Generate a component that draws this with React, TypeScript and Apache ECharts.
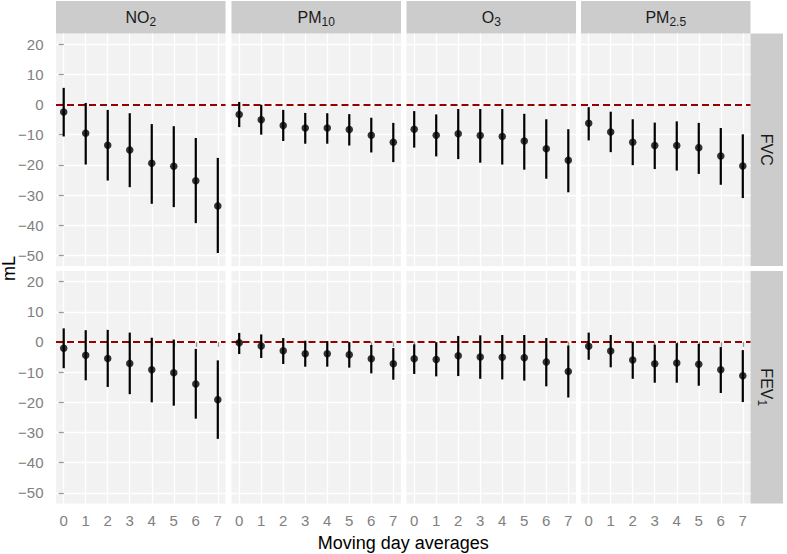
import React, { useEffect, useRef } from "react";
import * as echarts from "echarts";

// ---- data ----
const LAGS = [0, 1, 2, 3, 4, 5, 6, 7];
const Y_TICKS = [20, 10, 0, -10, -20, -30, -40, -50];
const POLLUTANT_BASE = ["NO", "PM", "O", "PM"];
const POLLUTANT_SUB = ["2", "10", "3", "2.5"];
const OUTCOME_BASE = ["FVC", "FEV"];
const OUTCOME_SUB = ["", "1"];

// FVC
const NO2_FVC_EST = [-2.5, -9.5, -13.5, -15.1, -19.5, -20.5, -25.3, -33.6];
const NO2_FVC_LO = [-10.6, -19.9, -25.2, -27.4, -32.9, -34.0, -39.3, -49.2];
const NO2_FVC_HI = [5.5, 0.5, -1.8, -2.9, -6.5, -7.2, -11.1, -17.7];

const PM10_FVC_EST = [-3.3, -5.1, -7.0, -7.8, -7.8, -8.3, -10.2, -12.5];
const PM10_FVC_LO = [-7.5, -10.0, -12.1, -13.0, -13.0, -13.6, -15.9, -19.1];
const PM10_FVC_HI = [0.8, -0.1, -1.8, -2.8, -2.9, -3.2, -4.4, -6.1];

const O3_FVC_EST = [-8.2, -10.2, -9.7, -10.3, -10.6, -12.1, -14.7, -18.5];
const O3_FVC_LO = [-14.3, -17.2, -18.1, -19.3, -19.9, -21.6, -24.6, -29.1];
const O3_FVC_HI = [-2.2, -3.3, -1.5, -1.5, -1.5, -3.1, -4.9, -8.2];

const PM25_FVC_EST = [-6.2, -9.1, -12.5, -13.6, -13.6, -14.3, -17.1, -20.4];
const PM25_FVC_LO = [-11.9, -15.8, -20.1, -21.4, -21.9, -23.0, -26.6, -31.0];
const PM25_FVC_HI = [-0.9, -2.4, -4.9, -6.0, -5.6, -6.1, -7.8, -9.9];

// FEV1
const NO2_FEV_EST = [-2.1, -4.4, -5.5, -7.1, -9.2, -10.2, -13.9, -19.1];
const NO2_FEV_LO = [-8.7, -12.7, -14.9, -17.3, -20.0, -21.1, -25.4, -32.1];
const NO2_FEV_HI = [4.5, 3.9, 4.0, 3.1, 1.4, 0.8, -2.3, -6.1];

const PM10_FEV_EST = [-0.3, -1.3, -2.9, -3.9, -3.9, -4.2, -5.6, -7.2];
const PM10_FEV_LO = [-4.0, -5.3, -7.3, -8.2, -8.2, -8.5, -10.4, -12.5];
const PM10_FEV_HI = [3.0, 2.5, 1.3, 0.4, 0.3, -0.1, -1.0, -2.0];

const O3_FEV_EST = [-5.6, -5.8, -4.6, -5.0, -5.1, -5.2, -6.6, -9.8];
const O3_FEV_LO = [-10.6, -11.4, -11.3, -12.2, -12.4, -12.8, -14.7, -18.4];
const O3_FEV_HI = [-0.8, -0.1, 2.0, 2.2, 2.3, 2.3, 1.3, -1.2];

const PM25_FEV_EST = [-1.4, -3.0, -6.0, -7.2, -7.0, -7.4, -9.2, -11.2];
const PM25_FEV_LO = [-5.9, -8.4, -12.2, -13.5, -13.5, -14.5, -16.9, -19.9];
const PM25_FEV_HI = [3.1, 2.3, 0.1, -0.9, -0.4, -0.6, -1.7, -2.7];

const PANELS = [
  [NO2_FVC_EST, NO2_FVC_LO, NO2_FVC_HI],
  [PM10_FVC_EST, PM10_FVC_LO, PM10_FVC_HI],
  [O3_FVC_EST, O3_FVC_LO, O3_FVC_HI],
  [PM25_FVC_EST, PM25_FVC_LO, PM25_FVC_HI],
  [NO2_FEV_EST, NO2_FEV_LO, NO2_FEV_HI],
  [PM10_FEV_EST, PM10_FEV_LO, PM10_FEV_HI],
  [O3_FEV_EST, O3_FEV_LO, O3_FEV_HI],
  [PM25_FEV_EST, PM25_FEV_LO, PM25_FEV_HI],
];

// ---- layout ----
const FONT = "'Liberation Sans', Arial, Helvetica, sans-serif";
const COL_LEFT = [56, 231.5, 406.5, 581];
const PANEL_W = 169.5;
const ROW_TOP = [33.5, 271];
const PANEL_H = 232.5;
const STRIP_H = 32.5;
const STRIP_W = 32.5;

const minusFmt = (v: number) => (v < 0 ? "\u2212" + Math.abs(v) : String(v));

function stripText(base: string, sub: string, x: number, y: number, rotation: number) {
  const text = sub ? `{b|${base}}{s|${sub}}` : `{b|${base}}`;
  return {
    type: "text",
    x,
    y,
    rotation,
    silent: true,
    style: {
      text,
      align: "center",
      verticalAlign: "middle",
      fill: "#1a1a1a",
      rich: {
        b: { fontSize: 16, fontFamily: FONT, fill: "#1a1a1a" },
        s: { fontSize: 12, fontFamily: FONT, fill: "#1a1a1a", padding: [9, 0, 0, 0] },
      },
    },
  };
}

export default function App() {
  const ref = useRef<HTMLDivElement>(null);

  useEffect(() => {
    if (!ref.current) return;
    const chart = echarts.init(ref.current, undefined, { renderer: "svg" });

    const grids: any[] = [];
    const xAxes: any[] = [];
    const yAxes: any[] = [];
    const series: any[] = [];
    const graphics: any[] = [];

    for (let r = 0; r < 2; r++) {
      for (let c = 0; c < 4; c++) {
        const i = r * 4 + c;
        grids.push({
          left: COL_LEFT[c],
          top: ROW_TOP[r],
          width: PANEL_W,
          height: PANEL_H,
          show: true,
          backgroundColor: "#F2F2F2",
          borderWidth: 0,
          containLabel: false,
        });
        xAxes.push({
          gridIndex: i,
          type: "value",
          min: -0.35,
          max: 7.35,
          axisLine: { show: false },
          axisTick: {
            show: r === 1,
            customValues: LAGS,
            length: 5,
            lineStyle: { color: "#999999", width: 1.3 },
          },
          axisLabel: {
            show: r === 1,
            customValues: LAGS,
            color: "#808080",
            fontSize: 15,
            fontFamily: FONT,
            margin: 9,
          },
          splitLine: { show: true, lineStyle: { color: "#ffffff", width: 1.3 } },
        });
        yAxes.push({
          gridIndex: i,
          type: "value",
          min: -53.5,
          max: 23.5,
          axisLine: { show: false },
          axisTick: {
            show: c === 0,
            customValues: Y_TICKS,
            length: 5,
            lineStyle: { color: "#999999", width: 1.3 },
          },
          axisLabel: {
            show: c === 0,
            customValues: Y_TICKS,
            color: "#808080",
            fontSize: 15,
            fontFamily: FONT,
            margin: 12.5,
            formatter: minusFmt,
          },
          splitLine: { show: true, lineStyle: { color: "#ffffff", width: 1.3 } },
        });

        const [est, lo, hi] = PANELS[i];
        series.push({
          type: "custom",
          xAxisIndex: i,
          yAxisIndex: i,
          z: 3,
          silent: true,
          data: LAGS.map((l, k) => [l, lo[k], hi[k]]),
          encode: { x: 0, y: [1, 2] },
          renderItem: (_p: any, api: any) => {
            const a = api.coord([api.value(0), api.value(1)]);
            const b = api.coord([api.value(0), api.value(2)]);
            return {
              type: "line",
              shape: { x1: a[0], y1: a[1], x2: b[0], y2: b[1] },
              style: { stroke: "#000000", lineWidth: 2.2 },
            };
          },
        });
        series.push({
          type: "scatter",
          xAxisIndex: i,
          yAxisIndex: i,
          z: 4,
          silent: true,
          symbol: "circle",
          symbolSize: 7.5,
          itemStyle: { color: "#000000" },
          data: LAGS.map((l, k) => [l, est[k]]),
          markLine: {
            silent: true,
            symbol: "none",
            label: { show: false },
            z: 2,
            lineStyle: { color: "#960000", type: [7, 4], width: 2 },
            data: [{ yAxis: 0 }],
          },
        });

        if (r === 0) {
          graphics.push({
            type: "rect",
            silent: true,
            shape: { x: COL_LEFT[c], y: 1, width: PANEL_W, height: STRIP_H },
            style: { fill: "#CCCCCC" },
          });
          graphics.push(
            stripText(POLLUTANT_BASE[c], POLLUTANT_SUB[c], COL_LEFT[c] + PANEL_W / 2, 17, 0)
          );
        }
      }
      graphics.push({
        type: "rect",
        silent: true,
        shape: { x: COL_LEFT[3] + PANEL_W, y: ROW_TOP[r], width: STRIP_W, height: PANEL_H },
        style: { fill: "#CCCCCC" },
      });
      graphics.push(
        stripText(
          OUTCOME_BASE[r],
          OUTCOME_SUB[r],
          COL_LEFT[3] + PANEL_W + STRIP_W / 2,
          ROW_TOP[r] + PANEL_H / 2,
          -Math.PI / 2
        )
      );
    }

    graphics.push({
      type: "text",
      x: (COL_LEFT[0] + COL_LEFT[3] + PANEL_W) / 2,
      y: 543,
      silent: true,
      style: {
        text: "Moving day averages",
        align: "center",
        verticalAlign: "middle",
        fontSize: 18,
        fontFamily: FONT,
        fill: "#000000",
      },
    });
    graphics.push({
      type: "text",
      x: 9,
      y: (ROW_TOP[0] + ROW_TOP[1] + PANEL_H) / 2,
      rotation: Math.PI / 2,
      silent: true,
      style: {
        text: "mL",
        align: "center",
        verticalAlign: "middle",
        fontSize: 18,
        fontFamily: FONT,
        fill: "#000000",
      },
    });

    chart.setOption({
      animation: false,
      backgroundColor: "#ffffff",
      grid: grids,
      xAxis: xAxes,
      yAxis: yAxes,
      series,
      graphic: { elements: graphics },
    });

    return () => chart.dispose();
  }, []);

  return (
    <div
      ref={ref}
      style={{ position: "absolute", left: 0, top: 0, width: 787, height: 554 }}
    />
  );
}
